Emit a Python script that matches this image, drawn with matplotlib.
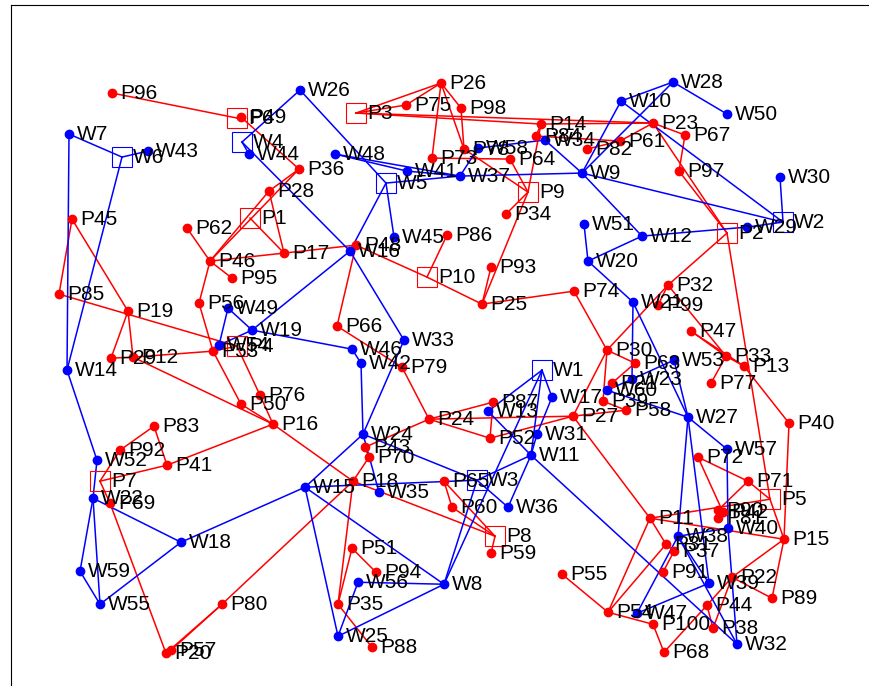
import matplotlib
matplotlib.use("Agg")
import matplotlib.pyplot as plt

# depots (squares)
p_depots = ["P1", "P2", "P3", "P4", "P5", "P6", "P7", "P8", "P9", "P10"]
p_depot_x = [250, 727, 356, 237, 770, 237, 100, 495, 528, 427]
p_depot_y = [218, 233, 113, 346, 499, 118, 481, 536, 192, 277]

w_depots = ["W1", "W2", "W3", "W4", "W5", "W6"]
w_depot_x = [542, 783, 477, 242, 386, 122]
w_depot_y = [370, 222, 480, 142, 183, 157]

# red customer points
p_names = ["P11", "P12", "P13", "P14", "P15", "P16", "P17", "P18", "P19", "P20",
           "P21", "P22", "P23", "P24", "P25", "P26", "P27", "P28", "P29", "P30",
           "P31", "P32", "P33", "P34", "P35", "P36", "P37", "P38", "P39", "P40",
           "P41", "P42", "P43", "P44", "P45", "P46", "P47", "P48", "P49", "P50",
           "P51", "P52", "P53", "P54", "P55", "P56", "P57", "P58", "P59", "P60",
           "P61", "P62", "P63", "P64", "P65", "P66", "P67", "P68", "P69", "P70",
           "P71", "P72", "P73", "P74", "P75", "P76", "P77", "P78", "P79", "P80",
           "P81", "P82", "P83", "P84", "P85", "P86", "P87", "P88", "P89", "P90",
           "P91", "P92", "P93", "P94", "P95", "P96", "P97", "P98", "P99", "P100"]
p_x = [650, 133, 744, 541, 784, 273, 284, 353, 128, 166,
       612, 732, 653, 429, 482, 441, 573, 269, 111, 607,
       666, 668, 726, 506, 338, 299, 674, 713, 603, 789,
       167, 723, 365, 707, 72, 210, 691, 356, 241, 241,
       352, 490, 213, 608, 562, 199, 171, 626, 491, 452,
       620, 187, 635, 510, 444, 337, 685, 664, 110, 369,
       748, 698, 432, 574, 406, 260, 711, 464, 402, 222,
       718, 587, 154, 536, 59, 447, 493, 372, 772, 718,
       663, 120, 491, 376, 232, 112, 679, 461, 658, 653]
p_y = [518, 357, 366, 124, 539, 424, 253, 481, 311, 653,
       383, 577, 123, 419, 304, 83, 416, 191, 358, 350,
       544, 285, 356, 214, 604, 169, 551, 628, 401, 423,
       465, 512, 447, 605, 219, 261, 331, 245, 117, 404,
       548, 438, 351, 612, 574, 303, 650, 410, 553, 507,
       141, 228, 363, 159, 481, 326, 135, 652, 503, 457,
       481, 457, 158, 291, 105, 395, 383, 149, 367, 604,
       518, 149, 426, 136, 294, 235, 402, 647, 598, 510,
       572, 450, 267, 572, 278, 93, 171, 108, 305, 624]

# blue customer points
w_names = ["W7", "W8", "W9", "W10", "W11", "W12", "W13", "W14", "W15", "W16",
           "W17", "W18", "W19", "W20", "W21", "W22", "W23", "W24", "W25", "W26",
           "W27", "W28", "W29", "W30", "W31", "W32", "W33", "W34", "W35", "W36",
           "W37", "W38", "W39", "W40", "W41", "W42", "W43", "W44", "W45", "W46",
           "W47", "W48", "W49", "W50", "W51", "W52", "W53", "W54", "W55", "W56",
           "W57", "W58", "W59", "W60"]
w_x = [69, 444, 582, 621, 531, 642, 488, 67, 305, 350,
       552, 181, 252, 588, 633, 93, 632, 363, 338, 300,
       688, 673, 747, 780, 537, 737, 404, 545, 379, 508,
       460, 678, 709, 728, 407, 361, 148, 249, 394, 352,
       637, 335, 228, 727, 584, 97, 674, 219, 100, 358,
       727, 478, 80, 607]
w_y = [134, 584, 173, 101, 455, 236, 411, 370, 487, 251,
       397, 542, 330, 261, 302, 498, 379, 434, 636, 90,
       417, 82, 227, 177, 434, 644, 340, 140, 492, 507,
       176, 536, 583, 528, 171, 363, 151, 154, 237, 349,
       613, 154, 308, 114, 224, 460, 360, 345, 604, 582,
       449, 148, 571, 390]

# route legs
red_links = [
    ("P6", "P96"), ("P6", "P49"), ("P49", "P36"), ("P36", "P28"), ("P36", "P46"),
    ("P28", "P17"), ("P28", "P46"), ("P46", "P62"), ("P1", "P17"),
    ("P46", "P17"), ("P46", "P95"), ("P46", "P56"), ("P56", "P53"), ("P4", "P53"),
    ("P53", "P12"), ("P12", "P29"), ("P29", "P19"), ("P19", "P12"), ("P85", "P45"),
    ("P45", "P19"), ("P85", "P4"), ("P12", "P16"), ("P4", "P76"), ("P76", "P16"),
    ("P50", "P16"), ("P53", "P50"), ("P16", "P18"), ("P16", "P41"), ("P7", "P92"),
    ("P92", "P83"), ("P83", "P41"), ("P7", "P41"), ("P7", "P69"), ("P69", "P20"),
    ("P20", "P80"), ("P57", "P80"), ("P80", "P18"), ("P18", "P35"), ("P35", "P88"),
    ("P35", "P51"), ("P51", "P94"), ("P18", "P70"), ("P43", "P24"), ("P18", "P8"),
    ("P8", "P60"), ("P65", "P60"), ("P8", "P65"), ("P8", "P59"), ("P24", "P87"),
    ("P87", "P52"), ("P52", "P27"), ("P24", "P27"), ("P24", "P52"), ("P27", "P30"),
    ("P30", "P39"), ("P27", "P58"), ("P30", "P74"), ("P74", "P25"), ("P25", "P93"),
    ("P25", "P10"), ("P10", "P48"), ("P48", "P17"), ("P48", "P66"), ("P86", "P10"),
    ("P30", "P32"), ("P32", "P99"), ("P32", "P33"), ("P47", "P33"), ("P33", "P77"),
    ("P33", "P13"), ("P47", "P13"), ("P13", "P40"), ("P40", "P15"), ("P15", "P5"),
    ("P5", "P71"), ("P71", "P72"), ("P5", "P11"), ("P11", "P54"), ("P54", "P55"),
    ("P54", "P100"), ("P100", "P68"), ("P68", "P44"), ("P38", "P44"), ("P44", "P22"),
    ("P22", "P89"), ("P89", "P15"), ("P15", "P22"), ("P11", "P15"), ("P2", "P5"),
    ("P2", "P32"), ("P2", "P23"), ("P2", "P97"), ("P23", "P67"), ("P67", "P97"),
    ("P23", "P61"), ("P61", "P82"), ("P84", "P61"), ("P14", "P84"), ("P14", "P9"),
    ("P3", "P75"), ("P3", "P26"), ("P75", "P26"), ("P26", "P98"), ("P98", "P78"),
    ("P26", "P78"), ("P26", "P73"), ("P3", "P23"), ("P3", "P14"), ("P14", "P23"),
    ("P9", "P34"), ("P9", "P64"), ("P9", "P25"), ("P73", "P64"), ("P78", "P9"),
    ("P30", "P63"), ("P63", "P21"), ("P11", "P31"), ("P31", "P37"), ("P54", "P31"),
    ("P71", "P90"), ("P90", "P42"), ("P42", "P81"), ("P37", "P91"), ("P38", "P22"),
    ("P79", "P66"), ("P79", "P24"), ("P43", "P70"), ("P27", "P11"), ("P58", "P39"),
    ("P72", "P42"),
]

blue_links = [
    ("W6", "W7"), ("W7", "W14"), ("W6", "W43"), ("W6", "W14"), ("W14", "W52"),
    ("W52", "W22"), ("W22", "W59"), ("W22", "W55"), ("W59", "W55"), ("W22", "W18"),
    ("W55", "W18"), ("W18", "W15"), ("W15", "W24"), ("W15", "W25"), ("W15", "W8"),
    ("W15", "W3"), ("W24", "W42"), ("W42", "W46"), ("W46", "W19"), ("W19", "W49"),
    ("W49", "W54"), ("W19", "W54"), ("W16", "W19"), ("W16", "W33"), ("W33", "W24"),
    ("W24", "W3"), ("W4", "W26"), ("W26", "W5"), ("W4", "W44"), ("W4", "W16"),
    ("W48", "W41"), ("W48", "W37"), ("W5", "W16"), ("W5", "W45"),
    ("W5", "W37"), ("W41", "W37"), ("W37", "W9"), ("W37", "W58"), ("W58", "W34"),
    ("W34", "W9"), ("W9", "W10"), ("W10", "W28"), ("W28", "W50"), ("W28", "W9"),
    ("W10", "W2"), ("W9", "W2"), ("W9", "W12"), ("W12", "W20"), ("W20", "W51"),
    ("W12", "W29"), ("W29", "W2"), ("W2", "W30"), ("W20", "W21"), ("W21", "W23"),
    ("W21", "W27"), ("W53", "W23"), ("W60", "W23"), ("W60", "W27"), ("W27", "W57"),
    ("W27", "W53"), ("W27", "W38"), ("W27", "W39"), ("W57", "W40"), ("W38", "W47"),
    ("W38", "W32"), ("W40", "W32"), ("W40", "W38"), ("W38", "W39"), ("W39", "W47"),
    ("W11", "W32"), ("W1", "W13"), ("W1", "W17"), ("W1", "W8"), ("W1", "W11"),
    ("W17", "W31"), ("W31", "W11"), ("W13", "W11"), ("W3", "W36"),
    ("W36", "W11"), ("W8", "W3"), ("W3", "W11"), ("W25", "W8"), ("W25", "W56"),
    ("W56", "W8"), ("W24", "W35"),
]

pos = {}
for names, xs, ys in [(p_depots, p_depot_x, p_depot_y), (w_depots, w_depot_x, w_depot_y),
                      (p_names, p_x, p_y), (w_names, w_x, w_y)]:
    for n, x, y in zip(names, xs, ys):
        pos[n] = (x, y)

plt.rcParams["font.family"] = ["Liberation Sans", "DejaVu Sans"]

fig = plt.figure(figsize=(8.69, 6.86), dpi=100)
ax = fig.add_axes([11 / 869, -0.05, 1.0, 1.05 - 5 / 686])
ax.set_xlim(11, 880)
ax.set_ylim(720, 5)

for links, color in [(red_links, "#ff0000"), (blue_links, "#0000ff")]:
    for a, b in links:
        ax.plot([pos[a][0], pos[b][0]], [pos[a][1], pos[b][1]], color=color, lw=1.1, zorder=1)

ax.plot(p_x, p_y, "o", color="#ff0000", ms=6, zorder=3)
ax.plot(w_x, w_y, "o", color="#0000ff", ms=6, zorder=3)
ax.plot(p_depot_x, p_depot_y, "s", mfc="none", mec="#ff0000", ms=15, mew=0.8, zorder=2)
ax.plot(w_depot_x, w_depot_y, "s", mfc="none", mec="#0000ff", ms=15, mew=0.8, zorder=2)

for names, xs, ys, dx in [(p_names, p_x, p_y, 5.8), (w_names, w_x, w_y, 5.8),
                          (p_depots, p_depot_x, p_depot_y, 7.9),
                          (w_depots, w_depot_x, w_depot_y, 7.9)]:
    for n, x, y in zip(names, xs, ys):
        ax.annotate(n, (x, y), xytext=(dx, 0), textcoords="offset points",
                    ha="left", va="center", fontsize=15, zorder=4)

ax.set_xticks([])
ax.set_yticks([])
ax.spines["right"].set_visible(False)
ax.spines["bottom"].set_visible(False)
for s in ("left", "top"):
    ax.spines[s].set_linewidth(0.8)

fig.savefig("out.png", dpi=100)
